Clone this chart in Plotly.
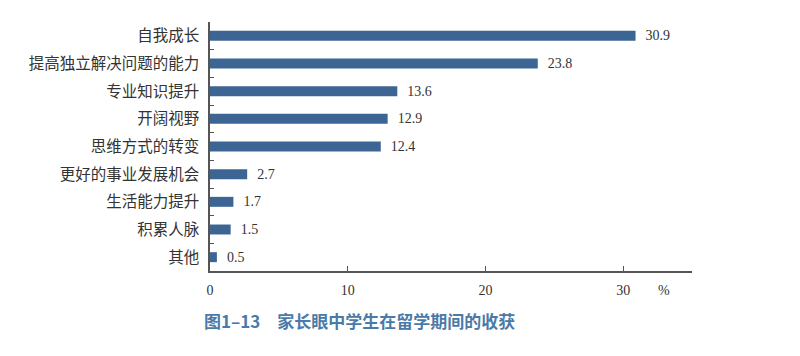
import plotly.graph_objects as go

categories = ["自我成长", "提高独立解决问题的能力", "专业知识提升", "开阔视野", "思维方式的转变",
              "更好的事业发展机会", "生活能力提升", "积累人脉", "其他"]
values = [30.9, 23.8, 13.6, 12.9, 12.4, 2.7, 1.7, 1.5, 0.5]
x_ticks = [0, 10, 20, 30]
title_text = "图1–13　家长眼中学生在留学期间的收获"

serif = "Liberation Serif, DejaVu Serif, serif"
cjk = "Noto Sans CJK SC, sans-serif"

# page body has an 8px default margin; compensate
OFF = 8
L, R, T, B = 210 - OFF, 108 + OFF, 22 - OFF, 85 + OFF
W, H = 800, 356

fig = go.Figure(go.Bar(
    y=categories, x=values, orientation="h",
    marker=dict(color="#3d6594", line=dict(width=0)),
    width=0.36,
    text=["\u00a0\u00a0" + f"{v:.1f}" for v in values], textposition="outside",
    constraintext="none",
    textfont=dict(family=serif, size=14, color="#333333"),
    cliponaxis=False,
))

fig.update_layout(
    width=W, height=H,
    margin=dict(l=L, r=R, t=T, b=B, autoexpand=False),
    paper_bgcolor="white", plot_bgcolor="white",
    showlegend=False,
    bargap=0.64,
    xaxis=dict(range=[0, 35], tickvals=x_ticks, ticktext=[str(t) for t in x_ticks],
               showgrid=False, zeroline=False, showline=True, linecolor="#555555", linewidth=1.5,
               ticks="inside", ticklen=5, tickcolor="#555555", ticklabelstandoff=5,
               tickfont=dict(family=serif, size=14, color="#333333"), automargin=False),
    yaxis=dict(categoryorder="array", categoryarray=categories[::-1], range=[-0.5, 8.5],
               showgrid=False, zeroline=False, showline=True, linecolor="#555555", linewidth=1.5,
               ticks="inside", ticklen=4, tickcolor="#555555", tickson="boundaries",
               tickfont=dict(family=cjk, size=15.5, color="#333333"), ticklabelstandoff=6,
               automargin=False),
)

pw, ph = W - L - R, H - T - B


def px2paper(px, py):
    return (px - OFF - L) / pw, 1 - (py - OFF - T) / ph


ax, ay = px2paper(664, 290)
fig.add_annotation(text="%", x=ax, y=ay, xref="paper", yref="paper", showarrow=False,
                   xanchor="center", yanchor="middle",
                   font=dict(family=serif, size=14, color="#333333"))
tx, ty = px2paper(202, 320)
fig.add_annotation(text=title_text, x=tx, y=ty, xref="paper", yref="paper", showarrow=False,
                   xanchor="left", yanchor="middle",
                   font=dict(family=cjk, size=17, color="#4a7aa8", weight="bold"))

fig.write_html("out.html")
